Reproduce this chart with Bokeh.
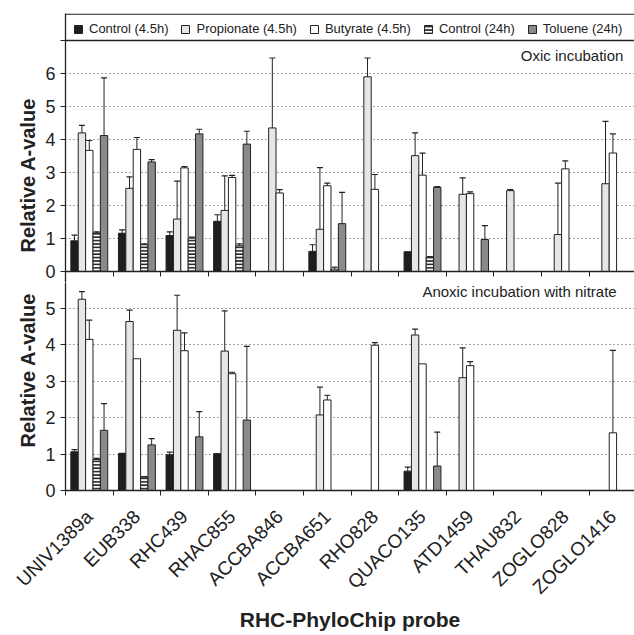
import math
import pandas as pd
from bokeh.plotting import figure
from bokeh.layouts import column
from bokeh.models import (ColumnDataSource, Range1d, LinearAxis, FixedTicker, Grid, Span,
                          Label, Legend, LegendItem, Whisker, TeeHead, Title)
from bokeh.transform import dodge
from bokeh.embed import file_html
from bokeh.resources import INLINE

# ---------------- data ----------------
probes = ["UNIV1389a", "EUB338", "RHC439", "RHAC855", "ACCBA846", "ACCBA651",
          "RHO828", "QUACO135", "ATD1459", "THAU832", "ZOGLO828", "ZOGLO1416"]
treatments = ["Control (4.5h)", "Propionate (4.5h)", "Butyrate (4.5h)",
              "Control (24h)", "Toluene (24h)"]

# Oxic incubation (mean, upper error)
oxic_ctrl45 = [0.93, 1.16, 1.09, 1.52, None, 0.61, None, 0.60, None, None, None, None]
oxic_ctrl45_err = [0.17, 0.10, 0.11, 0.20, None, 0.20, None, None, None, None, None, None]
oxic_prop = [4.20, 2.52, 1.59, 1.85, 4.35, 1.28, 5.90, 3.51, 2.34, 2.45, 1.12, 2.66]
oxic_prop_err = [0.23, 0.35, 1.15, 1.05, 2.12, 1.87, 0.57, 0.69, 0.50, 0.03, 1.56, 1.89]
oxic_but = [3.67, 3.70, 3.14, 2.85, 2.38, 2.60, 2.49, 2.92, 2.36, None, 3.11, 3.59]
oxic_but_err = [0.30, 0.36, 0.04, 0.06, 0.10, 0.08, 0.45, 0.67, 0.05, None, 0.24, 0.58]
oxic_ctrl24 = [1.17, 0.81, 1.01, 0.78, None, 0.07, None, 0.43, None, None, None, None]
oxic_ctrl24_err = [0.03, 0.03, 0.03, 0.06, None, 0.06, None, 0.02, None, None, None, None]
oxic_tol = [4.12, 3.32, 4.17, 3.86, None, 1.45, None, 2.55, 0.97, None, None, None]
oxic_tol_err = [1.75, 0.07, 0.14, 0.39, None, 0.95, None, 0.02, 0.42, None, None, None]

# Anoxic incubation with nitrate (mean, upper error)
anox_ctrl45 = [1.06, 1.01, 0.98, 1.01, None, None, None, 0.53, None, None, None, None]
anox_ctrl45_err = [0.06, 0.01, 0.07, None, None, None, None, 0.11, None, None, None, None]
anox_prop = [5.24, 4.63, 4.39, 3.82, None, 2.07, None, 4.26, 3.09, None, None, None]
anox_prop_err = [0.21, 0.31, 0.96, 1.10, None, 0.76, None, 0.16, 0.82, None, None, None]
anox_but = [4.14, 3.61, 3.83, 3.20, None, 2.48, 3.98, 3.47, 3.42, None, None, 1.58]
anox_but_err = [0.53, None, 0.49, 0.04, None, 0.13, 0.07, None, 0.11, None, None, 2.26]
anox_ctrl24 = [0.85, 0.37, None, None, None, None, None, None, None, None, None, None]
anox_ctrl24_err = [0.03, 0.01, None, None, None, None, None, None, None, None, None, None]
anox_tol = [1.65, 1.25, 1.47, 1.93, None, None, None, 0.67, None, None, None, None]
anox_tol_err = [0.73, 0.17, 0.69, 2.02, None, None, None, 0.93, None, None, None, None]

oxic_ticks = [0, 1, 2, 3, 4, 5, 6, 7]
oxic_labels = {7: ""}
anox_ticks = [0, 1, 2, 3, 4, 5]

# ---------------- layout ----------------
FONT = "Liberation Sans"
INK = "#222222"
BL = 65
FW = 569
PX_CAT = 47.6
OX_PPU, AN_PPU = 33.0, 36.5
TOP_FH = 269        # top frame: y 13 .. 282
OX_ZERO_FROM_BOTTOM = 11
BOT_FH = 208        # bottom frame: y 282 .. 490

xr = Range1d(0, FW / PX_CAT)
ox_range = Range1d(-OX_ZERO_FROM_BOTTOM / OX_PPU, (TOP_FH - OX_ZERO_FROM_BOTTOM) / OX_PPU)
an_range = Range1d(0, BOT_FH / AN_PPU)

xc = [i + 0.5 for i in range(len(probes))]
edges = [float(i) for i in range(len(probes) + 1)]
BW = 0.155

styles = [
    dict(fill_color="#1e1e1e", line_color=INK),
    dict(fill_color="#e6e6e6", line_color=INK),
    dict(fill_color="#ffffff", line_color=INK),
    dict(fill_color="#ffffff", line_color=INK, hatch_pattern="horizontal_line",
         hatch_color="#1e1e1e", hatch_scale=3.4, hatch_weight=1.7),
    dict(fill_color="#8a8a8a", line_color=INK),
]


def make_fig(fh, yr, top, bottom):
    return figure(frame_width=FW, frame_height=fh, x_range=xr, y_range=yr,
                  x_axis_type=None, y_axis_type=None, output_backend="svg",
                  toolbar_location=None, min_border_left=BL, min_border_right=0,
                  min_border_top=top, min_border_bottom=bottom, outline_line_color=None,
                  background_fill_color="white", border_fill_color="white")


def style_y(ax):
    ax.axis_line_color = INK
    ax.axis_line_width = 1.3
    ax.major_tick_line_color = INK
    ax.major_tick_out = 5
    ax.major_tick_in = 0
    ax.minor_tick_line_color = None
    ax.major_label_text_font = FONT
    ax.major_label_text_font_size = "18px"
    ax.major_label_text_color = INK
    ax.major_label_standoff = 5


def add_panel(f, vals, errs, ticks, grid_ticks, overrides, title_offset):
    f.add_layout(Grid(dimension=1, ticker=FixedTicker(ticks=grid_ticks),
                      grid_line_color="#444444", grid_line_dash="1 3", grid_line_width=1.2))
    rends = []
    for k in range(5):
        df = pd.DataFrame({"x": xc, "v": vals[k], "e": errs[k]}, dtype=float)
        off = (k - 2) * BW
        r = f.vbar(x=dodge("x", off, range=xr), top="v", bottom=0, width=BW,
                   source=ColumnDataSource(df), line_width=1, **styles[k])
        rends.append(r)
        d = df.dropna().copy()
        d["u"] = d["v"] + d["e"]
        f.add_layout(Whisker(source=ColumnDataSource(d), base=dodge("x", off, range=xr),
                             lower="v", upper="u", dimension="height",
                             line_color=INK, line_width=1,
                             upper_head=TeeHead(size=6, line_color=INK, line_width=1.2),
                             lower_head=None, level="glyph"))
    ya = LinearAxis(ticker=FixedTicker(ticks=ticks), major_label_overrides=overrides)
    style_y(ya)
    f.add_layout(ya, "left")
    f.add_layout(Title(text="Relative A-value", align="left", offset=title_offset,
                       text_font=FONT, text_font_size="20px", text_font_style="bold",
                       text_color=INK, standoff=8), "left")
    return rends


# ---- top panel (oxic) ----
p1 = make_fig(TOP_FH, ox_range, 13, 0)
ox_r = add_panel(p1, [oxic_ctrl45, oxic_prop, oxic_but, oxic_ctrl24, oxic_tol],
                 [oxic_ctrl45_err, oxic_prop_err, oxic_but_err, oxic_ctrl24_err, oxic_tol_err],
                 oxic_ticks, oxic_ticks[1:7], oxic_labels, 30)

x_ox = LinearAxis(fixed_location=0, ticker=FixedTicker(ticks=edges))
x_ox.axis_line_color = INK
x_ox.axis_line_width = 1.3
x_ox.major_tick_line_color = INK
x_ox.major_tick_out = 5
x_ox.major_tick_in = 0
x_ox.minor_tick_line_color = None
x_ox.major_label_text_alpha = 0
p1.add_layout(x_ox, "below")

p1.add_layout(Span(location=7, dimension="width", line_color=INK, line_width=1.3))
p1.add_layout(Span(location=ox_range.end - 0.02, dimension="width", line_color=INK,
                   line_width=1.3))
p1.add_layout(Label(x=11.72, y=6.55, text="Oxic incubation", text_align="right",
                    text_baseline="middle", text_font=FONT, text_font_size="15px",
                    text_color=INK))

legend = Legend(items=[LegendItem(label=t, renderers=[r]) for t, r in zip(treatments, ox_r)],
                location="top_left", orientation="horizontal", margin=0, padding=8,
                spacing=12, label_standoff=6, glyph_width=10, glyph_height=10,
                label_height=10, label_text_font=FONT, label_text_font_size="13px",
                label_text_color=INK, border_line_alpha=0, background_fill_alpha=0)
p1.add_layout(legend)

# ---- bottom panel (anoxic) ----
p2 = make_fig(BOT_FH, an_range, 0, 145)
add_panel(p2, [anox_ctrl45, anox_prop, anox_but, anox_ctrl24, anox_tol],
          [anox_ctrl45_err, anox_prop_err, anox_but_err, anox_ctrl24_err, anox_tol_err],
          anox_ticks, anox_ticks[1:], {}, 43)

x_an = LinearAxis(ticker=FixedTicker(ticks=xc, minor_ticks=edges),
                  major_label_overrides={c: n for c, n in zip(xc, probes)},
                  major_label_orientation=math.pi / 4,
                  axis_label="RHC-PhyloChip probe")
x_an.axis_line_color = INK
x_an.axis_line_width = 1.3
x_an.major_tick_out = 0
x_an.major_tick_in = 0
x_an.minor_tick_out = 5
x_an.minor_tick_in = 0
x_an.minor_tick_line_color = INK
x_an.major_label_text_font = FONT
x_an.major_label_text_font_size = "19px"
x_an.major_label_text_color = INK
x_an.major_label_standoff = 18
x_an.axis_label_text_font = FONT
x_an.axis_label_text_font_size = "21px"
x_an.axis_label_text_font_style = "bold"
x_an.axis_label_text_color = INK
x_an.axis_label_standoff = 0
p2.add_layout(x_an, "below")

p2.add_layout(Label(x=11.58, y=5.45, text="Anoxic incubation with nitrate",
                    text_align="right", text_baseline="middle", text_font=FONT,
                    text_font_size="15px", text_color=INK))

layout = column(p1, p2, spacing=0)
open("out.html", "w").write(file_html(layout, INLINE))
